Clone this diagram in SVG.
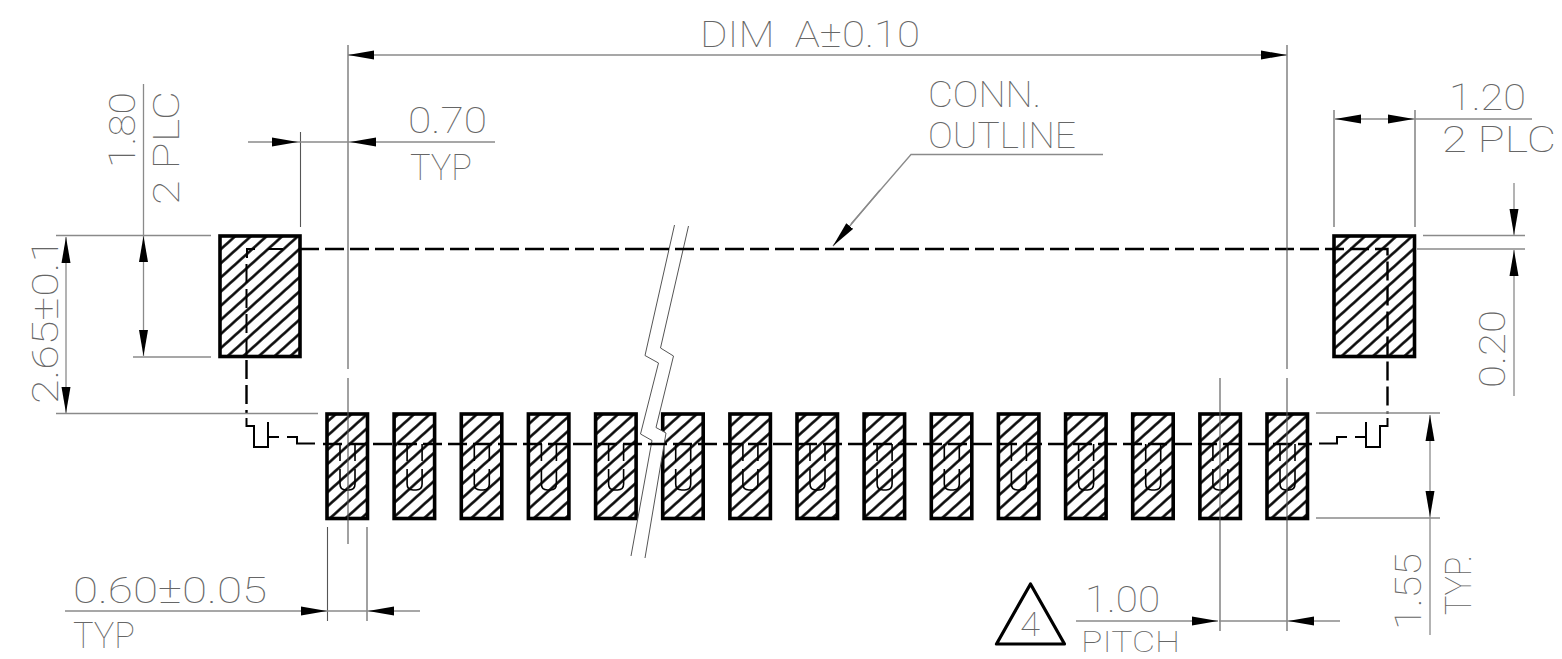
<svg xmlns="http://www.w3.org/2000/svg" width="1562" height="659" viewBox="0 0 1562 659">
<style>
text{font-family:"Roboto","Liberation Sans",sans-serif;font-weight:100;font-size:36px;fill:#666}
.dim{fill:none;stroke:#8a8a8a;stroke-width:1.3;marker-end:url(#arrow)}
.ext{fill:none;stroke:#8a8a8a;stroke-width:1.3}
.cl{fill:none;stroke:#555;stroke-width:1.1}
.pad{fill:url(#hatch);stroke:#000;stroke-width:3.6}
.dash{fill:none;stroke:#000;stroke-width:2.4;stroke-dasharray:19 6}
.solid{fill:none;stroke:#000;stroke-width:2}
.brkfill{fill:#fff;stroke:none}
.brk{fill:none;stroke:#555;stroke-width:1}
</style>
<defs>
<marker id="arrow" markerUnits="userSpaceOnUse" viewBox="0 0 26 10" markerWidth="26" markerHeight="10" refX="26" refY="5" orient="auto"><path d="M0 .5L26 5L0 9.500Z" fill="#000"/></marker>
<pattern id="hatch" patternUnits="userSpaceOnUse" width="10" height="10.500" patternTransform="rotate(-42 219 235)"><rect width="10" height="10.500" fill="#fff"/><path d="M0 5.250H10" stroke="#000" stroke-width="2.500"/></pattern>
<path id="u" d="M340 444V461M340 469V484Q340 490 346 490H349Q355 490 355 484V469M355 461V444" fill="none" stroke="#000" stroke-width="1.6"/>
</defs>
<g id="pad-left"><rect class="pad" x="220" y="236" width="80" height="120.500"/></g>
<g id="pad-right"><rect class="pad" x="1334" y="236" width="80.500" height="120.500"/></g>
<g id="pads">
<g id="pad-1"><rect class="pad" x="327" y="414" width="40.500" height="104.500"/><use href="#u"/></g>
<g id="pad-2"><rect class="pad" x="394.100" y="414" width="40.500" height="104.500"/><use href="#u" x="67.100"/></g>
<g id="pad-3"><rect class="pad" x="461.300" y="414" width="40.500" height="104.500"/><use href="#u" x="134.300"/></g>
<g id="pad-4"><rect class="pad" x="528.400" y="414" width="40.500" height="104.500"/><use href="#u" x="201.400"/></g>
<g id="pad-5"><rect class="pad" x="595.600" y="414" width="40.500" height="104.500"/><use href="#u" x="268.600"/></g>
<g id="pad-6"><rect class="pad" x="662.700" y="414" width="40.500" height="104.500"/><use href="#u" x="335.700"/></g>
<g id="pad-7"><rect class="pad" x="729.900" y="414" width="40.500" height="104.500"/><use href="#u" x="402.900"/></g>
<g id="pad-8"><rect class="pad" x="797" y="414" width="40.500" height="104.500"/><use href="#u" x="470"/></g>
<g id="pad-9"><rect class="pad" x="864.100" y="414" width="40.500" height="104.500"/><use href="#u" x="537.100"/></g>
<g id="pad-10"><rect class="pad" x="931.300" y="414" width="40.500" height="104.500"/><use href="#u" x="604.300"/></g>
<g id="pad-11"><rect class="pad" x="998.400" y="414" width="40.500" height="104.500"/><use href="#u" x="671.400"/></g>
<g id="pad-12"><rect class="pad" x="1065.600" y="414" width="40.500" height="104.500"/><use href="#u" x="738.600"/></g>
<g id="pad-13"><rect class="pad" x="1132.700" y="414" width="40.500" height="104.500"/><use href="#u" x="805.700"/></g>
<g id="pad-14"><rect class="pad" x="1199.900" y="414" width="40.500" height="104.500"/><use href="#u" x="872.900"/></g>
<g id="pad-15"><rect class="pad" x="1267" y="414" width="40.500" height="104.500"/><use href="#u" x="940"/></g>
</g>
<g id="break-line"><path class="brkfill" d="M674.500 225L645 355.500L658.500 363L640.500 434L652 440.500L631 556L645 558L666 433L656 427.500L673.500 356L660.500 348L688.500 226Z"/><path class="brk" d="M674.500 225L645 355.500L658.500 363L640.500 434L652 440.500L631 556M688.500 226L660.500 348L673.500 356L656 427.500L666 433L645 558"/></g>
<g id="outline">
<path class="dash" d="M300 249H1387.500V414"/>
<path class="dash" d="M246.500 360V414"/>
<path class="solid" d="M255 249H247V258M246.500 264V283M246.500 289V308M246.500 314V333M246.500 339V357M268 249H283M246.500 418V426H254V447H268V422M268 437H279M287 437H297V443.500H315"/>
<path class="solid" d="M1387.500 418V426H1380V447H1366V422M1366 437H1355M1347 437H1337V443.500H1319"/>
<path class="dash" d="M323 444H1312"/>
</g>
<g id="connectors">
<path class="cl" d="M348 45V369M348 378V544M1287 45V369M1287 378V631M1220 378V631"/>
<path class="cl" d="M300.500 132V227M1334 110V227M1415 110V227M327.500 527V621M367 527V621"/>
<path class="dim" d="M818 55H348"/><path class="dim" d="M818 55H1287"/>
<path class="dim" d="M248 142H298"/><path class="dim" d="M495 142H350"/>
<path class="ext" d="M143.500 84V235M56 235.500H211M133 357H211M56 413.500H318M298 142H350"/>
<path class="dim" d="M143.500 296V236"/><path class="dim" d="M143.500 296V356"/>
<path class="dim" d="M66 325V237"/><path class="dim" d="M66 325V413"/>
<path class="dim" d="M1375 119H1335"/><path class="dim" d="M1375 119H1414"/>
<path class="ext" d="M1414 119H1532"/>
<path class="dim" d="M1514 183V235"/><path class="dim" d="M1514 396V250"/>
<path class="ext" d="M1423 235.500H1525M1417 249H1525M1316 413H1440M1316 518H1440"/>
<path class="dim" d="M1430 466V415"/><path class="dim" d="M1430 466V517"/><path class="ext" d="M1430 517V635"/>
<path class="dim" d="M65 611H327"/><path class="dim" d="M420 611H368"/><path class="ext" d="M327 611H368"/>
<path class="dim" d="M1076 621H1218"/><path class="dim" d="M1340 621H1288"/>
<path class="ext" d="M1219 621H1288"/>
<path class="ext" d="M1103 154.500H911L851 224"/><path class="dim" d="M880 190L833 246"/>
</g>
<g id="triangle"><path d="M1030.500 584L996.500 644H1064.500Z" fill="none" stroke="#000" stroke-width="3.200" stroke-linejoin="round"/><text x="1020" y="636" textLength="20" lengthAdjust="spacingAndGlyphs" style="font-size:33px">4</text></g>
<g id="labels">
<text x="700" y="47" textLength="220" lengthAdjust="spacingAndGlyphs" xml:space="preserve">DIM  A±0.10</text>
<text x="928" y="107" textLength="113" lengthAdjust="spacingAndGlyphs">CONN.</text>
<text x="928" y="148" textLength="148" lengthAdjust="spacingAndGlyphs">OUTLINE</text>
<text x="408" y="133" textLength="79" lengthAdjust="spacingAndGlyphs">0.70</text>
<text x="410" y="180" textLength="62" lengthAdjust="spacingAndGlyphs">TYP</text>
<text x="1449" y="110" textLength="77" lengthAdjust="spacingAndGlyphs">1.20</text>
<text x="1442" y="152" textLength="114" lengthAdjust="spacingAndGlyphs">2 PLC</text>
<text transform="translate(135 168) rotate(-90)" textLength="76" lengthAdjust="spacingAndGlyphs">1.80</text>
<text transform="translate(179 205) rotate(-90)" textLength="114" lengthAdjust="spacingAndGlyphs">2 PLC</text>
<text transform="translate(58 404) rotate(-90)" textLength="166" lengthAdjust="spacingAndGlyphs">2.65±0.1</text>
<text transform="translate(1505 388) rotate(-90)" textLength="78" lengthAdjust="spacingAndGlyphs">0.20</text>
<text transform="translate(1421 630) rotate(-90)" textLength="77" lengthAdjust="spacingAndGlyphs">1.55</text>
<text transform="translate(1471 615) rotate(-90)" textLength="60" lengthAdjust="spacingAndGlyphs">TYP.</text>
<text x="73" y="603" textLength="194" lengthAdjust="spacingAndGlyphs">0.60±0.05</text>
<text x="73" y="648" textLength="62" lengthAdjust="spacingAndGlyphs">TYP</text>
<text x="1085" y="612" textLength="75" lengthAdjust="spacingAndGlyphs">1.00</text>
<text x="1081" y="652" textLength="99" lengthAdjust="spacingAndGlyphs" style="font-size:30px">PITCH</text>
</g>
</svg>
